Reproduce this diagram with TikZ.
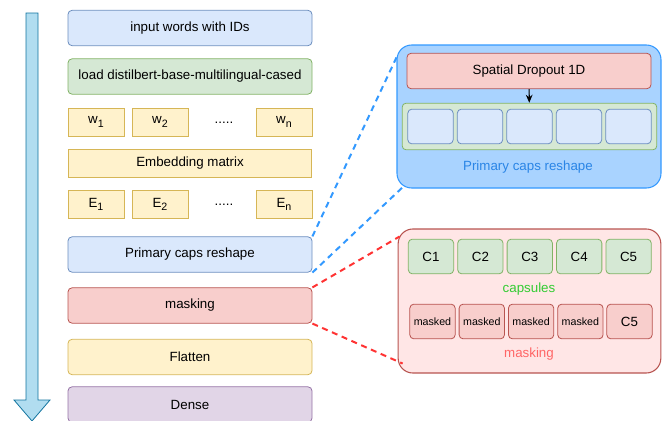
\documentclass[tikz,border=0pt]{standalone}
\usepackage{fontspec}
\setmainfont{Liberation Sans}
\usetikzlibrary{arrows.meta}

\definecolor{blufill}{HTML}{DAE8FC}
\definecolor{bludraw}{HTML}{6C8EBF}
\definecolor{grnfill}{HTML}{D5E8D4}
\definecolor{grndraw}{HTML}{82B366}
\definecolor{yelfill}{HTML}{FFF2CC}
\definecolor{yeldraw}{HTML}{D6B656}
\definecolor{redfill}{HTML}{F8CECC}
\definecolor{reddraw}{HTML}{B85450}
\definecolor{purfill}{HTML}{E1D5E7}
\definecolor{purdraw}{HTML}{9673A6}
\definecolor{panblue}{HTML}{A9D3FF}
\definecolor{panbluedraw}{HTML}{3399FF}
\definecolor{panlab}{HTML}{2A85E6}
\definecolor{panpink}{HTML}{FFE6E6}
\definecolor{capgreen}{HTML}{33CC33}
\definecolor{masklab}{HTML}{FF6666}
\definecolor{arrfill}{HTML}{B1DDF0}
\definecolor{arrdraw}{HTML}{10739E}

\newcommand{\idx}[1]{\raisebox{-0.45ex}{\fontsize{8}{9}\selectfont#1}}

\begin{document}
\begin{tikzpicture}[x=0.75pt, y=-0.75pt,
	font=\fontsize{10}{12}\selectfont,
	layer/.style={draw, rounded corners=3pt, line width=0.6pt,
		minimum width=183pt, minimum height=26.5pt, inner sep=0pt},
	tok/.style={draw=yeldraw, fill=yelfill, line width=0.6pt,
		minimum width=42pt, minimum height=21pt, inner sep=0pt},
	cell/.style={draw, rounded corners=3pt, line width=0.6pt,
		minimum width=34pt, minimum height=26pt, inner sep=0pt},
	panel/.style={draw, rounded corners=11pt, line width=0.8pt, inner sep=0pt},
	link/.style={line width=1.5pt, dash pattern=on 4.5pt off 3.5pt},
	]
\useasboundingbox (0,0) rectangle (662,421);

\filldraw[fill=arrfill, draw=arrdraw, line width=0.6pt]
	(26,13) -- (38,13) -- (38,400) -- (50,400) -- (32,421)
	-- (14,400) -- (26,400) -- cycle;

\node[layer, fill=blufill, draw=bludraw] (in) at (190,28) {input words with IDs};
\node[layer, fill=grnfill, draw=grndraw] (load) at (190,76.5) {load distilbert-base-multilingual-cased};
\foreach \x/\name/\txt in {96/w1/w\idx{1},
			160/w2/w\idx{2},
				284/wn/w\idx{n}}
\node[tok] (\name) at (\x,122) {\txt};
\node (wdots) at (224,123) {.....};
\node[tok, minimum width=182pt] (emb) at (190,163) {Embedding matrix};
\foreach \x/\name/\txt in {96/e1/E\idx{1},
			160/e2/E\idx{2},
				284/en/E\idx{n}}
\node[tok] (\name) at (\x,204) {\txt};
\node (edots) at (224,205) {.....};
\node[layer, fill=blufill, draw=bludraw] (prim) at (190,254.5) {Primary caps reshape};
\node[layer, fill=redfill, draw=reddraw] (mask) at (190,305.5) {masking};
\node[layer, fill=yelfill, draw=yeldraw] (flat) at (190,357) {Flatten};
\node[layer, fill=purfill, draw=purdraw] (dense) at (190,404.5) {Dense};

\node[panel, fill=panblue, draw=panbluedraw,
	minimum width=198pt, minimum height=107.25pt] (pcap) at (529,116.5) {};
\node[layer, fill=redfill, draw=reddraw] (drop) at (529,71) {Spatial Dropout 1D};
\node[draw=grndraw, fill=grnfill, rounded corners=3pt, line width=0.6pt,
	minimum width=191pt, minimum height=35pt, inner sep=0pt] (grp) at (529.5,126.5) {};
\foreach \i in {0,...,4}
\node[cell, fill=blufill, draw=bludraw] (p\i) at (430.5+49.5*\i,126.5) {};
\draw[-{Stealth[length=6pt, width=5pt]}, line width=0.8pt] (drop) -- (grp);
\node[text=panlab] (pcaplab) at (528,167) {Primary caps reshape};

\node[panel, fill=panpink, draw=reddraw,
	minimum width=197pt, minimum height=108pt] (pmask) at (529.5,301) {};
\foreach \i in {1,...,5}
\node[cell, fill=grnfill, draw=grndraw] (c\i) at (431+49.4*\i-49.4,256.5) {C\i};
\node[text=capgreen] (caplab) at (529,289) {capsules};
\foreach \i/\txt in {1/masked, 2/masked, 3/masked, 4/masked}
\node[cell, fill=redfill, draw=reddraw, font=\fontsize{8}{9}\selectfont]
	(m\i) at (432.5+49.3*\i-49.3,321.5) {\txt};
\node[cell, fill=redfill, draw=reddraw] (m5) at (629.5,321.5) {C5};
\node[text=masklab] (masklab) at (529,354) {masking};

\draw[link, panbluedraw] (prim.north east) -- ([shift={(0,13)}]pcap.north west);
\draw[link, panbluedraw] (prim.south east) -- ([shift={(8,-3)}]pcap.south west);
\draw[link, red!80!white] (mask.north east) -- ([shift={(2,8)}]pmask.north west);
\draw[link, red!80!white] (mask.south east) -- ([shift={(5,-10)}]pmask.south west);
\end{tikzpicture}
\end{document}
